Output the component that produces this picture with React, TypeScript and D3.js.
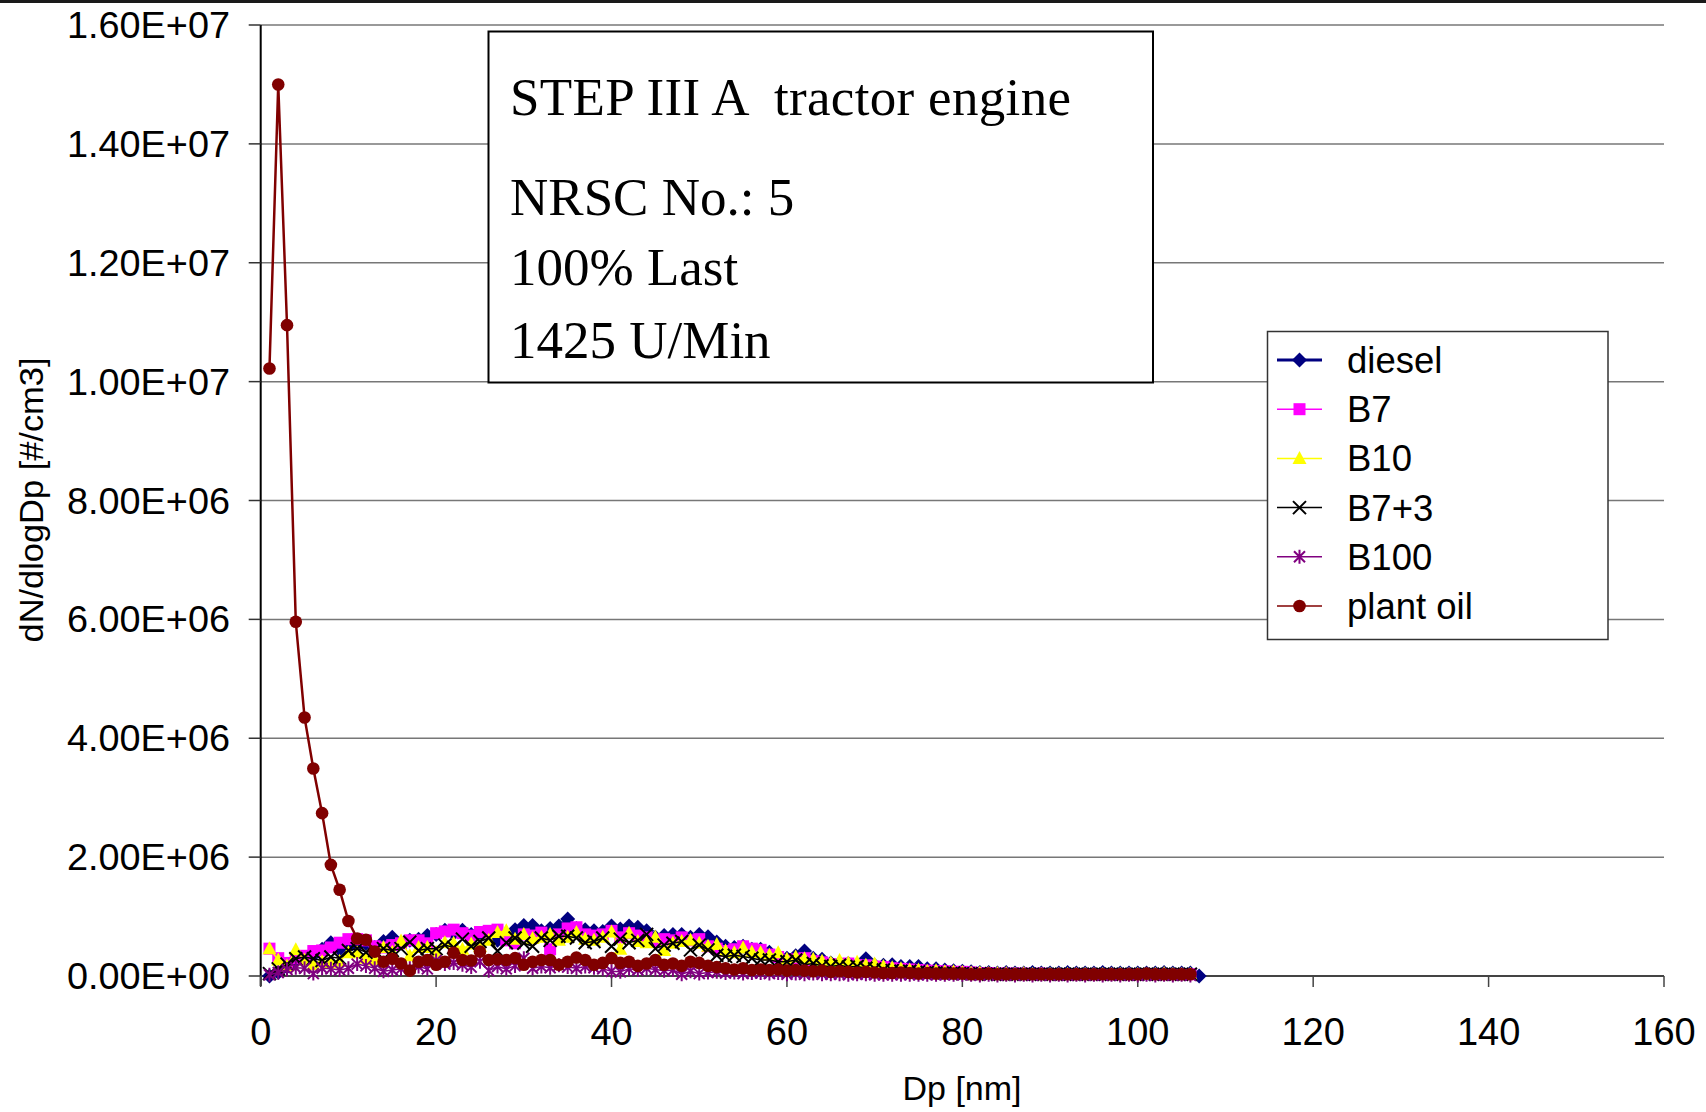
import React from 'react';
import * as d3 from 'd3';

// Particle diameter channel (nm)
const dp = [
  1, 2, 3, 4, 5, 6, 7, 8, 9, 10, 11, 12, 13, 14, 15, 16, 17, 18, 19, 20,
  21, 22, 23, 24, 25, 26, 27, 28, 29, 30, 31, 32, 33, 34, 35, 36, 37, 38, 39, 40,
  41, 42, 43, 44, 45, 46, 47, 48, 49, 50, 51, 52, 53, 54, 55, 56, 57, 58, 59, 60,
  61, 62, 63, 64, 65, 66, 67, 68, 69, 70, 71, 72, 73, 74, 75, 76, 77, 78, 79, 80,
  81, 82, 83, 84, 85, 86, 87, 88, 89, 90, 91, 92, 93, 94, 95, 96, 97, 98, 99, 100,
  101, 102, 103, 104, 105, 106, 107,
];

// dN/dlogDp in units of 1e5 #/cm3
const diesel = [
  0, 0.6, 1.5, 2.5, 3.0, 3.5, 4.5, 5.6, 4.5, 4.8,
  5.0, 5.5, 4.8, 5.8, 6.5, 5.5, 6.0, 6.2, 6.8, 7.0,
  7.7, 7.2, 7.7, 7.0, 6.8, 7.2, 6.0, 7.0, 7.8, 8.5,
  8.5, 7.6, 8.0, 8.4, 9.6, 8.0, 7.8, 7.6, 7.5, 8.4,
  7.9, 8.4, 8.2, 7.6, 6.5, 6.8, 7.0, 7.0, 6.5, 7.0,
  6.6, 5.7, 5.0, 4.8, 5.0, 4.5, 4.5, 4.0, 3.3, 3.0,
  3.4, 4.2, 3.0, 2.8, 2.2, 2.2, 2.1, 1.9, 2.9, 1.8,
  1.8, 1.9, 1.6, 1.6, 1.6, 1.2, 1.2, 1.0, 0.9, 0.8,
  0.7, 0.6, 0.6, 0.5, 0.6, 0.5, 0.5, 0.6, 0.5, 0.5,
  0.5, 0.6, 0.5, 0.5, 0.5, 0.6, 0.5, 0.5, 0.5, 0.5,
  0.5, 0.5, 0.6, 0.5, 0.5, 0.5, 0.0,
];

const b7 = [
  4.6, 3.0, 2.2, 3.0, 3.4, 4.2, 4.3, 4.8, 5.6, 6.2,
  6.2, 6.0, 5.0, 4.8, 5.2, 5.5, 6.0, 6.0, 5.5, 7.2,
  7.5, 7.8, 7.2, 6.8, 7.4, 7.6, 7.8, 6.0, 5.5, 7.0,
  6.8, 7.3, 4.5, 7.0, 8.0, 8.2, 7.0, 6.8, 7.0, 7.6,
  6.5, 7.2, 6.8, 6.5, 5.8, 6.2, 6.0, 6.5, 6.0, 6.2,
  5.0, 4.6, 4.2, 4.5, 5.0, 4.6, 4.4, 3.6, 3.2, 2.6,
  2.8, 3.0, 2.5, 2.3, 2.0, 1.8, 2.1, 1.8, 1.8, 1.6,
  1.5, 1.3, 1.2, 1.1, 1.0, 0.9, 0.8, 0.8, 0.7, 0.7,
  0.6, 0.5, 0.5, 0.4, 0.4, 0.4, 0.4, 0.3, 0.4, 0.3,
  0.3, 0.3, 0.3, 0.3, 0.3, 0.3, 0.3, 0.3, 0.3, 0.3,
  0.3, 0.3, 0.3, 0.3, 0.3, 0.3,
];

const b10 = [
  4.6, 2.7, 1.7, 4.4, 2.7, 1.9, 2.4, 2.2, 2.5, 3.9,
  3.9, 3.0, 2.7, 4.8, 4.0, 5.9, 3.4, 4.8, 4.8, 4.0,
  5.6, 5.5, 4.5, 5.4, 5.0, 6.0, 7.3, 7.6, 6.2, 7.0,
  6.3, 6.5, 7.0, 6.0, 6.5, 7.3, 6.2, 6.0, 6.5, 7.4,
  4.5, 7.2, 5.8, 5.6, 6.5, 4.3, 5.5, 5.8, 6.0, 5.5,
  5.0, 5.3, 4.2, 3.9, 4.7, 4.0, 3.9, 3.5, 3.9, 2.8,
  3.2, 2.9, 2.8, 2.5, 2.2, 2.6, 2.2, 2.3, 1.8, 2.0,
  1.6, 1.4, 1.2, 1.0, 1.0, 0.8, 0.9, 0.7, 0.7, 0.6,
  0.5, 0.5, 0.4, 0.4, 0.4, 0.3, 0.4, 0.3, 0.3, 0.3,
  0.3, 0.3, 0.3, 0.3, 0.3, 0.3, 0.3, 0.3, 0.3, 0.3,
  0.3, 0.3, 0.4, 0.3, 0.3, 0.3,
];

const b7plus3 = [
  0.4, 1.2, 2.0, 2.9, 3.2, 2.9, 2.6, 3.2, 3.0, 4.3,
  4.6, 4.0, 4.3, 4.6, 4.3, 4.6, 5.7, 4.3, 4.6, 4.6,
  5.2, 4.8, 6.2, 5.0, 5.8, 6.4, 4.2, 5.6, 6.4, 5.5,
  5.0, 6.4, 6.0, 6.7, 6.7, 6.4, 5.6, 5.8, 6.4, 5.0,
  6.2, 5.6, 6.0, 7.0, 4.6, 5.2, 5.5, 5.8, 4.4, 5.2,
  4.4, 3.5, 3.3, 3.5, 3.3, 3.0, 2.7, 2.7, 2.4, 2.4,
  2.7, 1.9, 2.1, 1.7, 1.6, 1.8, 1.5, 1.6, 1.3, 1.2,
  1.0, 0.9, 0.8, 0.8, 0.7, 0.6, 0.5, 0.5, 0.5, 0.4,
  0.4, 0.4, 0.3, 0.3, 0.3, 0.3, 0.3, 0.3, 0.3, 0.3,
  0.3, 0.3, 0.3, 0.3, 0.3, 0.3, 0.3, 0.3, 0.3, 0.3,
  0.3, 0.3, 0.3, 0.3, 0.3, 0.3,
];

const b100 = [
  0.2, 0.6, 1.1, 1.4, 1.3, 0.4, 1.3, 1.2, 1.0, 1.3,
  2.0, 1.7, 1.3, 0.8, 1.0, 1.2, 1.3, 1.6, 1.2, 2.6,
  2.0, 2.2, 1.9, 1.5, 2.4, 0.9, 1.6, 1.2, 1.7, 3.0,
  1.3, 1.6, 1.4, 1.8, 1.5, 1.3, 1.6, 1.4, 1.2, 0.8,
  0.7, 1.2, 1.0, 1.3, 1.1, 0.9, 1.0, 0.3, 0.8, 0.4,
  0.6, 0.7, 0.5, 0.6, 0.4, 0.5, 0.5, 0.4, 0.5, 0.3,
  0.4, 0.3, 0.4, 0.3, 0.3, 0.3, 0.2, 0.3, 0.3, 0.2,
  0.2, 0.2, 0.2, 0.2, 0.2, 0.2, 0.2, 0.2, 0.2, 0.2,
  0.2, 0.1, 0.2, 0.1, 0.2, 0.1, 0.2, 0.1, 0.2, 0.1,
  0.2, 0.1, 0.2, 0.1, 0.2, 0.1, 0.2, 0.1, 0.2, 0.1,
  0.2, 0.1, 0.2, 0.1, 0.2, 0.1,
];

const plantOil = [
  102.2, 150.0, 109.5, 59.6, 43.5, 34.9, 27.4, 18.7, 14.5, 9.25,
  6.3, 6.1, 4.1, 2.4, 2.9, 2.1, 0.9, 2.4, 2.7, 1.9,
  2.4, 3.9, 2.7, 2.6, 4.1, 2.7, 2.8, 2.7, 3.0, 1.9,
  2.4, 2.7, 2.7, 1.9, 2.4, 3.1, 2.7, 1.9, 2.2, 3.0,
  2.2, 2.4, 1.7, 2.1, 2.7, 1.9, 2.1, 1.7, 2.4, 2.2,
  1.7, 1.5, 1.3, 1.1, 1.3, 1.0, 1.1, 1.0, 1.1, 0.9,
  1.0, 0.9, 0.8, 0.9, 0.7, 0.8, 0.7, 0.6, 0.7, 0.6,
  0.5, 0.5, 0.6, 0.5, 0.4, 0.5, 0.4, 0.4, 0.4, 0.4,
  0.3, 0.3, 0.4, 0.3, 0.3, 0.3, 0.3, 0.3, 0.3, 0.3,
  0.3, 0.3, 0.3, 0.3, 0.3, 0.3, 0.3, 0.3, 0.3, 0.3,
  0.4, 0.3, 0.3, 0.3, 0.3, 0.3,
];

const yTicks = [0, 20, 40, 60, 80, 100, 120, 140, 160];
const yTickLabels = [
  '0.00E+00', '2.00E+06', '4.00E+06', '6.00E+06', '8.00E+06',
  '1.00E+07', '1.20E+07', '1.40E+07', '1.60E+07',
];
const xTicks = [0, 20, 40, 60, 80, 100, 120, 140, 160];

const annotationLines = [
  'STEP III A  tractor engine',
  'NRSC No.: 5',
  '100% Last',
  '1425 U/Min',
];

type Kind = 'diamond' | 'square' | 'triangle' | 'cross' | 'star' | 'circle';

const series: { name: string; values: number[]; color: string; kind: Kind; width: number }[] = [
  { name: 'diesel', values: diesel, color: '#000080', kind: 'diamond', width: 3 },
  { name: 'B7', values: b7, color: '#FF00FF', kind: 'square', width: 1.5 },
  { name: 'B10', values: b10, color: '#FFFF00', kind: 'triangle', width: 1.5 },
  { name: 'B7+3', values: b7plus3, color: '#000000', kind: 'cross', width: 1.5 },
  { name: 'B100', values: b100, color: '#800080', kind: 'star', width: 1.5 },
  { name: 'plant oil', values: plantOil, color: '#800000', kind: 'circle', width: 2.5 },
];

const W = 1706;
const H = 1112;
const plot = { left: 260.7, right: 1664, top: 25, bottom: 976 };

const xScale = d3.scaleLinear().domain([0, 160]).range([plot.left, plot.right]);
const yScale = d3.scaleLinear().domain([0, 160]).range([plot.bottom, plot.top]);

const SANS = '"Liberation Sans", Arial, sans-serif';
const SERIF = '"Liberation Serif", "Times New Roman", serif';

function Marker({ kind, cx, cy, color }: { kind: Kind; cx: number; cy: number; color: string }) {
  switch (kind) {
    case 'diamond': {
      const r = 7.5;
      return <path d={`M${cx},${cy - r}L${cx + r},${cy}L${cx},${cy + r}L${cx - r},${cy}Z`} fill={color} />;
    }
    case 'square':
      return <rect x={cx - 6} y={cy - 6} width={12} height={12} fill={color} />;
    case 'triangle':
      return <path d={`M${cx},${cy - 7.5}L${cx + 7},${cy + 5.5}L${cx - 7},${cy + 5.5}Z`} fill={color} />;
    case 'cross': {
      const r = 6.5;
      return (
        <path
          d={`M${cx - r},${cy - r}L${cx + r},${cy + r}M${cx - r},${cy + r}L${cx + r},${cy - r}`}
          stroke={color}
          strokeWidth={2}
          fill="none"
        />
      );
    }
    case 'star': {
      const r = 5.5;
      return (
        <path
          d={`M${cx - r},${cy - r}L${cx + r},${cy + r}M${cx - r},${cy + r}L${cx + r},${cy - r}M${cx},${cy - r - 1.5}L${cx},${cy + r + 1.5}`}
          stroke={color}
          strokeWidth={2}
          fill="none"
        />
      );
    }
    case 'circle':
    default:
      return <circle cx={cx} cy={cy} r={6.3} fill={color} />;
  }
}

export default function App() {
  const line = d3
    .line<number>()
    .x((_, i) => xScale(dp[i]))
    .y((v) => yScale(v));

  const legend = { x: 1267.5, y: 331.5, w: 340.5, h: 308, rowY0: 360, rowGap: 49.2 };

  return (
    <svg
      width={W}
      height={H}
      viewBox={`0 0 ${W} ${H}`}
      style={{ position: 'absolute', left: 0, top: 0, background: '#fff' }}
    >
      <rect x={0} y={0} width={W} height={H} fill="#fff" />
      <rect x={0} y={0} width={W} height={3} fill="#1a1a1a" />

      {/* horizontal gridlines */}
      {yTicks.map((t) => (
        <line
          key={`g${t}`}
          x1={plot.left}
          x2={plot.right}
          y1={yScale(t)}
          y2={yScale(t)}
          stroke="#777"
          strokeWidth={1.5}
        />
      ))}

      {/* y axis */}
      <line x1={plot.left} x2={plot.left} y1={plot.top} y2={plot.bottom + 10} stroke="#000" strokeWidth={2} />
      {yTicks.map((t, i) => (
        <g key={`y${t}`}>
          <line x1={plot.left - 12} x2={plot.left} y1={yScale(t)} y2={yScale(t)} stroke="#333" strokeWidth={1.5} />
          <text
            x={230}
            y={yScale(t) + 13}
            textAnchor="end"
            fontFamily={SANS}
            fontSize={36}
            textLength={163}
            lengthAdjust="spacingAndGlyphs"
            fill="#000"
          >
            {yTickLabels[i]}
          </text>
        </g>
      ))}

      {/* x axis */}
      <line x1={plot.left} x2={plot.right} y1={plot.bottom} y2={plot.bottom} stroke="#444" strokeWidth={2} />
      {xTicks.map((t) => (
        <g key={`x${t}`}>
          <line x1={xScale(t)} x2={xScale(t)} y1={plot.bottom} y2={plot.bottom + 11} stroke="#444" strokeWidth={1.5} />
          <text x={xScale(t)} y={1045} textAnchor="middle" fontFamily={SANS} fontSize={38} fill="#000">
            {t}
          </text>
        </g>
      ))}

      <text x={962} y={1100} textAnchor="middle" fontFamily={SANS} fontSize={34} fill="#000">
        Dp [nm]
      </text>
      <text
        transform={`translate(43,500) rotate(-90)`}
        textAnchor="middle"
        fontFamily={SANS}
        fontSize={34}
        textLength={285}
        lengthAdjust="spacingAndGlyphs"
        fill="#000"
      >
        dN/dlogDp [#/cm3]
      </text>

      {/* series */}
      {series.map((s) => (
        <g key={s.name}>
          <path d={line(s.values) || ''} fill="none" stroke={s.color} strokeWidth={s.width} />
          {s.values.map((v, i) => (
            <Marker key={i} kind={s.kind} cx={xScale(dp[i])} cy={yScale(v)} color={s.color} />
          ))}
        </g>
      ))}

      {/* annotation box */}
      <rect x={488.5} y={31.5} width={664.5} height={351} fill="#fff" stroke="#000" strokeWidth={2} />
      {annotationLines.map((t, i) => (
        <text
          key={t}
          x={510}
          y={[115, 215, 285, 358][i]}
          fontFamily={SERIF}
          fontSize={53}
          fill="#000"
          xmlSpace="preserve"
          style={{ whiteSpace: 'pre' }}
          {...(i === 0 ? { textLength: 561, lengthAdjust: 'spacing' } : {})}
        >
          {t}
        </text>
      ))}

      {/* legend */}
      <rect
        x={legend.x}
        y={legend.y}
        width={legend.w}
        height={legend.h}
        fill="#fff"
        stroke="#333"
        strokeWidth={1.5}
      />
      {series.map((s, i) => {
        const cy = legend.rowY0 + i * legend.rowGap;
        return (
          <g key={`l${s.name}`}>
            <line x1={1277} x2={1322} y1={cy} y2={cy} stroke={s.color} strokeWidth={s.kind === 'diamond' ? 3 : 1.5} />
            <Marker kind={s.kind} cx={1299.5} cy={cy} color={s.color} />
            <text x={1347} y={cy + 13} fontFamily={SANS} fontSize={36.5} fill="#000">
              {s.name}
            </text>
          </g>
        );
      })}
    </svg>
  );
}
